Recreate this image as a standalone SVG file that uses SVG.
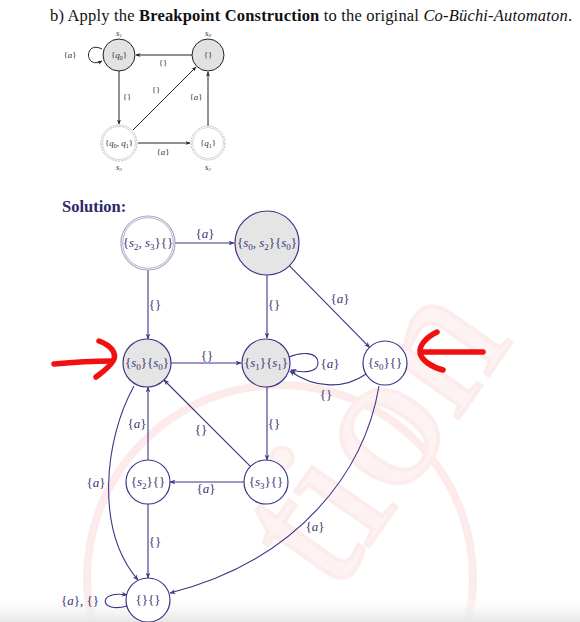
<svg xmlns="http://www.w3.org/2000/svg" width="580" height="622" viewBox="0 0 580 622">
<defs>
<style>
.t{font-family:"Liberation Serif",serif;}
.m{font-family:"Liberation Serif",serif;font-size:13px;fill:#3a3472;text-anchor:middle;}
.sm{font-family:"Liberation Serif",serif;font-size:9px;fill:#333;text-anchor:middle;}
.i{font-style:italic;}
.e{fill:none;stroke:#3d3585;stroke-width:1.1;marker-end:url(#ah);}
.ek{fill:none;stroke:#222;stroke-width:1;marker-end:url(#ak);}
.n{stroke:#3d3585;stroke-width:1.2;}
.red{fill:none;stroke:#f01010;stroke-width:5.5;stroke-linecap:round;stroke-linejoin:round;}
</style>
<marker id="ah" viewBox="0 0 10 10" refX="9" refY="5" markerWidth="6" markerHeight="6" orient="auto" markerUnits="userSpaceOnUse"><path d="M0,1 L10,5 L0,9 L3,5 z" fill="#3d3585"/></marker>
<marker id="ak" viewBox="0 0 10 10" refX="9" refY="5" markerWidth="5" markerHeight="5" orient="auto" markerUnits="userSpaceOnUse"><path d="M0,1 L10,5 L0,9 L3,5 z" fill="#222"/></marker>
<linearGradient id="bg" x1="0" y1="0" x2="0" y2="1"><stop offset="0" stop-color="#ffffff" stop-opacity="0"/><stop offset="1" stop-color="#e6e6e6"/></linearGradient>
</defs>
<rect width="580" height="622" fill="#fff"/>
<!-- watermark -->
<g id="watermark" opacity="0.42">
<circle cx="280" cy="578" r="193" fill="none" stroke="#fbd0d0" stroke-width="8"/>
<text x="0" y="0" transform="translate(335,595) rotate(-55)" font-family="Liberation Serif,serif" font-size="200" fill="#fde4e4" stroke="#fbd2d2" stroke-width="4">tion</text>
</g>
<rect x="0" y="594" width="580" height="28" fill="url(#bg)"/>
<text class="t" x="50" y="21" font-size="16.5" fill="#111" textLength="522" lengthAdjust="spacing">b) Apply the <tspan font-weight="bold">Breakpoint Construction</tspan> to the original <tspan font-style="italic">Co-Büchi-Automaton</tspan>.</text>

<!-- small automaton -->
<g id="small-edges">
<path class="ek" d="M102,49 C84,40 84,70 102,61"/>
<path class="ek" d="M192,55 L136,55"/>
<path class="ek" d="M119,71 L119,124"/>
<path class="ek" d="M133,130 L196,67"/>
<path class="ek" d="M138,143 L190,143"/>
<path class="ek" d="M208,126 L208,72"/>
<text class="sm" x="70" y="58"><tspan>{</tspan><tspan class="i">a</tspan><tspan>}</tspan></text>
<text class="sm" x="163" y="66">{}</text>
<text class="sm" x="127" y="100">{}</text>
<text class="sm" x="156" y="93">{}</text>
<text class="sm" x="163" y="155">{<tspan class="i">a</tspan>}</text>
<text class="sm" x="196" y="100">{<tspan class="i">a</tspan>}</text>
</g>
<g id="s1"><circle cx="119" cy="55" r="16" fill="#e2e2e2" stroke="#222" stroke-width="1"/><text class="sm" x="119" y="58">{<tspan class="i">q</tspan><tspan font-size="6" dy="1.5">0</tspan><tspan dy="-1.5">}</tspan></text><text class="sm i" x="119" y="36" font-size="7">s<tspan font-size="5" dy="1">1</tspan></text></g>
<g id="s0"><circle cx="208" cy="55" r="16" fill="#e2e2e2" stroke="#222" stroke-width="1"/><text class="sm" x="208" y="58">{}</text><text class="sm i" x="208" y="36" font-size="7">s<tspan font-size="5" dy="1">0</tspan></text></g>
<g id="s3"><circle cx="119" cy="143" r="18" fill="#fff" stroke="#bbb" stroke-width="1" stroke-dasharray="2 1"/><circle cx="119" cy="143" r="16.5" fill="none" stroke="#ccc" stroke-width="0.8"/><text class="sm" x="119" y="146">{<tspan class="i">q</tspan><tspan font-size="6" dy="1.5">0</tspan><tspan dy="-1.5">, </tspan><tspan class="i">q</tspan><tspan font-size="6" dy="1.5">1</tspan><tspan dy="-1.5">}</tspan></text><text class="sm i" x="119" y="170" font-size="7">s<tspan font-size="5" dy="1">3</tspan></text></g>
<g id="s2"><circle cx="208" cy="143" r="17" fill="#fff" stroke="#bbb" stroke-width="1" stroke-dasharray="2 1"/><circle cx="208" cy="143" r="15.5" fill="none" stroke="#ccc" stroke-width="0.8"/><text class="sm" x="208" y="146">{<tspan class="i">q</tspan><tspan font-size="6" dy="1.5">1</tspan><tspan dy="-1.5">}</tspan></text><text class="sm i" x="208" y="170" font-size="7">s<tspan font-size="5" dy="1">2</tspan></text></g>

<text class="t" x="62" y="212" font-size="16.5" font-weight="bold" fill="#2e2866">Solution:</text>

<!-- connectors -->
<g id="connectors">
<path class="e" d="M175,243 L234,243"/>
<path class="e" d="M148,270 L148,339"/>
<path class="e" d="M267,275 L267,338"/>
<path class="e" d="M289.5,265.8 L369.6,347.3"/>
<path class="e" d="M171,363 L241,363"/>
<path class="e" d="M289,357 C300,352 318,351 318,363 C318,373 302,373 291,370"/>
<path class="e" d="M366,374 C345,389 315,389 290,371"/>
<path class="e" d="M267,387 L267,460"/>
<path class="e" d="M250.4,466.4 L164,380"/>
<path class="e" d="M148,460 L148,387"/>
<path class="e" d="M134,386 C104,440 95,530 138,580"/>
<path class="e" d="M244,482 L170,482"/>
<path class="e" d="M148,504 L148,578"/>
<path class="e" d="M379,386 C365,470 300,560 170,593"/>
<path class="e" d="M127,606 C100,614 96,590 127,595"/>
</g>
<g id="edge-labels">
<text class="m" x="205" y="238">{<tspan class="i">a</tspan>}</text>
<text class="m" x="155" y="309">{}</text>
<text class="m" x="274" y="309">{}</text>
<text class="m" x="340" y="303">{<tspan class="i">a</tspan>}</text>
<text class="m" x="207" y="360">{}</text>
<text class="m" x="330" y="368">{<tspan class="i">a</tspan>}</text>
<text class="m" x="326" y="399">{}</text>
<text class="m" x="274" y="428">{}</text>
<text class="m" x="201" y="434">{}</text>
<text class="m" x="137" y="428">{<tspan class="i">a</tspan>}</text>
<text class="m" x="96" y="487">{<tspan class="i">a</tspan>}</text>
<text class="m" x="206" y="493">{<tspan class="i">a</tspan>}</text>
<text class="m" x="155" y="546">{}</text>
<text class="m" x="315" y="531">{<tspan class="i">a</tspan>}</text>
<text class="m" x="80" y="605">{<tspan class="i">a</tspan>}, {}</text>
</g>

<!-- nodes -->
<g id="n-s2s3"><circle cx="148" cy="243" r="27" fill="#fff" stroke="#aaa6c8" stroke-width="1.2"/><circle cx="148" cy="243" r="25.3" fill="none" stroke="#aaa6c8" stroke-width="0.9"/><text class="m" x="148" y="247">{<tspan class="i">s</tspan><tspan font-size="9" dy="3">2</tspan><tspan dy="-3">, </tspan><tspan class="i">s</tspan><tspan font-size="9" dy="3">3</tspan><tspan dy="-3">}{}</tspan></text></g>
<g id="n-s0s2s0"><circle class="n" cx="267" cy="243" r="32" fill="#e5e5e5"/><text class="m" x="267" y="247">{<tspan class="i">s</tspan><tspan font-size="9" dy="3">0</tspan><tspan dy="-3">, </tspan><tspan class="i">s</tspan><tspan font-size="9" dy="3">2</tspan><tspan dy="-3">}{</tspan><tspan class="i">s</tspan><tspan font-size="9" dy="3">0</tspan><tspan dy="-3">}</tspan></text></g>
<g id="n-s0s0"><circle class="n" cx="147" cy="363" r="24" fill="#e5e5e5"/><text class="m" x="147" y="367">{<tspan class="i">s</tspan><tspan font-size="9" dy="3">0</tspan><tspan dy="-3">}{</tspan><tspan class="i">s</tspan><tspan font-size="9" dy="3">0</tspan><tspan dy="-3">}</tspan></text></g>
<g id="n-s1s1"><circle class="n" cx="266" cy="363" r="24" fill="#e5e5e5"/><text class="m" x="266" y="367">{<tspan class="i">s</tspan><tspan font-size="9" dy="3">1</tspan><tspan dy="-3">}{</tspan><tspan class="i">s</tspan><tspan font-size="9" dy="3">1</tspan><tspan dy="-3">}</tspan></text></g>
<g id="n-s0e"><circle class="n" cx="385" cy="363" r="22" fill="#fff"/><text class="m" x="385" y="367">{<tspan class="i">s</tspan><tspan font-size="9" dy="3">0</tspan><tspan dy="-3">}{}</tspan></text></g>
<g id="n-s2e"><circle class="n" cx="148" cy="482" r="22" fill="#fff"/><text class="m" x="148" y="486">{<tspan class="i">s</tspan><tspan font-size="9" dy="3">2</tspan><tspan dy="-3">}{}</tspan></text></g>
<g id="n-s3e"><circle class="n" cx="266" cy="482" r="22" fill="#fff"/><text class="m" x="266" y="486">{<tspan class="i">s</tspan><tspan font-size="9" dy="3">3</tspan><tspan dy="-3">}{}</tspan></text></g>
<g id="n-ee"><circle class="n" cx="148" cy="600" r="22" fill="#fff"/><text class="m" x="148" y="604">{}{}</text></g>

<!-- red annotation arrows -->
<g id="red-arrows">
<path class="red" d="M54,364 C75,362 95,361 112,361"/>
<path class="red" d="M99,341 C110,345 118,353 113,361 C109,368 101,373 96,377"/>
<path class="red" d="M483,352 L421,352"/>
<path class="red" d="M437,332 C425,338 419,346 420,353 C422,361 432,367 443,370"/>
</g>
</svg>
